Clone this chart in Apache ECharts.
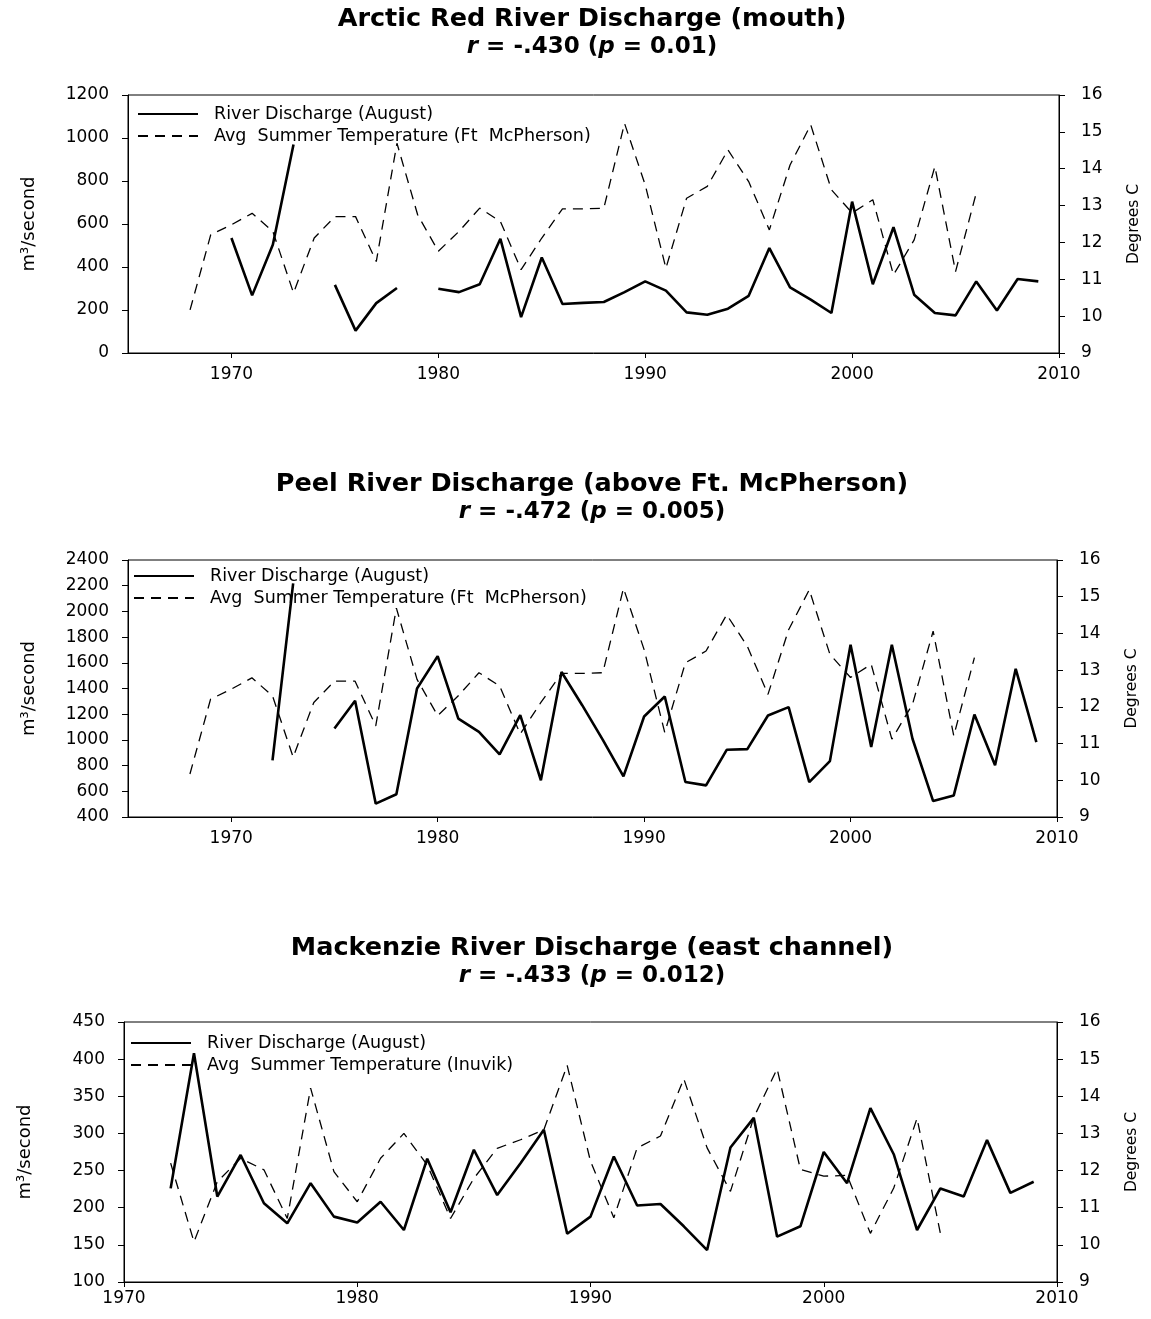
<!DOCTYPE html>
<html>
<head>
<meta charset="utf-8">
<script src="https://cdn.jsdelivr.net/npm/echarts@6/dist/echarts.min.js"></script>
<style>html,body{margin:0;padding:0;background:#fff}#c{width:1151px;height:1319px}</style>
</head>
<body>
<div id="c"></div>
<script>
const years = [1968,1969,1970,1971,1972,1973,1974,1975,1976,1977,1978,1979,1980,1981,1982,1983,1984,1985,1986,1987,1988,1989,1990,1991,1992,1993,1994,1995,1996,1997,1998,1999,2000,2001,2002,2003,2004,2005,2006,2007,2008,2009];
const arcticDischarge = [null,null,535,268,503,970,null,317,104,232,302,null,299,283,320,531,167,444,228,233,237,283,333,290,189,178,206,266,488,305,248,186,704,320,585,271,186,175,333,198,344,333];
const mcphersonTemp = [10.17,12.21,12.48,12.79,12.3,10.63,12.12,12.7,12.7,11.48,14.69,12.75,11.76,12.3,12.93,12.57,11.26,12.12,12.91,12.91,12.93,15.23,13.56,11.3,13.2,13.52,14.51,13.65,12.34,14.1,15.19,13.43,12.8,13.16,11.12,12.07,14.06,11.21,13.34,null,null,null];
const peelDischarge = [null,null,null,null,841,2218,null,1088,1304,504,577,1400,1652,1166,1062,888,1192,686,1528,1270,1000,716,1182,1338,672,646,923,928,1190,1255,672,835,1740,944,1740,1009,524,568,1198,802,1553,983];
const mackenzieDischarge = [null,null,null,null,226,408,215,271,206,179,233,188,180,208,170,266,194,278,217,260,305,165,188,269,203,205,175,143,281,321,161,175,275,233,334,272,170,226,215,291,220,235];
const inuvikTemp = [null,null,null,null,12.2,10.08,11.7,12.33,12.02,10.71,14.22,11.97,11.16,12.33,13.0,12.15,10.71,11.79,12.6,12.83,13.1,14.83,12.25,10.73,12.61,12.93,14.47,12.61,11.44,13.43,14.74,12.03,11.85,11.87,10.31,11.53,13.41,10.31,null,null,null,null];
const decadeTicks = [1970,1980,1990,2000,2010];
const titles = [
  ['Arctic Red River Discharge (mouth)', '-.430', '0.01'],
  ['Peel River Discharge (above Ft. McPherson)', '-.472', '0.005'],
  ['Mackenzie River Discharge (east channel)', '-.433', '0.012']
];
const dischargeName = 'River Discharge (August)';
const mcphName = 'Avg  Summer Temperature (Ft  McPherson)';
const inuvikName = 'Avg  Summer Temperature (Inuvik)';

const FONT = 'DejaVu Sans, Verdana, sans-serif';
const pair = arr => years.map((y, i) => [y, arr[i]]);
const plain = v => String(v);

const grids = [
  {left: 128, right: 92, top: 95, height: 258},
  {left: 128, right: 94, top: 560, height: 257},
  {left: 124, right: 94, top: 1022, height: 260}
].map(g => Object.assign({show: true, borderColor: '#000', borderWidth: 1, containLabel: false}, g));

const titleTops = [5, 470, 934];
const title = titles.map((t, i) => ({
  text: t[0] + '\n{it|r}{a| = ' + t[1] + ' (}{it|p}{a| = ' + t[2] + ')}',
  left: 592, top: titleTops[i], textAlign: 'center', padding: 0,
  textStyle: {fontFamily: FONT, fontSize: 25.5, fontWeight: 'bold', color: '#000', lineHeight: 28,
    rich: {
      it: {fontFamily: FONT, fontSize: 23, fontWeight: 'bold', fontStyle: 'italic', color: '#000', lineHeight: 28},
      a: {fontFamily: FONT, fontSize: 23, fontWeight: 'bold', color: '#000', lineHeight: 28}
    }}
}));

const xRange = [[1965, 2010], [1965, 2010], [1970, 2010]];
const xLabelMargin = [13, 13, 8];
const xAxis = xRange.map((r, i) => ({
  type: 'value', gridIndex: i, min: r[0], max: r[1], interval: 5,
  axisLine: {show: true, onZero: false, lineStyle: {color: '#000', width: 1}},
  axisTick: {show: true, inside: false, length: 5, customValues: decadeTicks, lineStyle: {color: '#000'}},
  axisLabel: {customValues: decadeTicks, formatter: plain, color: '#000', fontFamily: FONT, fontSize: 17, margin: xLabelMargin[i]},
  splitLine: {show: false}
}));

const leftRanges = [[0, 1200, 200], [400, 2400, 200], [100, 450, 50]];
const yAxis = [];
leftRanges.forEach((r, i) => {
  yAxis.push({
    type: 'value', gridIndex: i, position: 'left', min: r[0], max: r[1], interval: r[2],
    name: 'm³/second', nameLocation: 'middle', nameRotate: 90, nameGap: 90,
    nameTextStyle: {fontFamily: FONT, fontSize: 18, color: '#000'},
    axisLine: {show: true, onZero: false, lineStyle: {color: '#000', width: 1}},
    axisTick: {show: true, length: 6, lineStyle: {color: '#000'}},
    axisLabel: {formatter: plain, color: '#000', fontFamily: FONT, fontSize: 17, margin: 19},
    splitLine: {show: false}
  });
  yAxis.push({
    type: 'value', gridIndex: i, position: 'right', min: 9, max: 16, interval: 1,
    name: 'Degrees C', nameLocation: 'middle', nameRotate: 90, nameGap: 67,
    nameTextStyle: {fontFamily: FONT, fontSize: 15.5, color: '#000'},
    axisLine: {show: true, onZero: false, lineStyle: {color: '#000', width: 1}},
    axisTick: {show: true, length: 6, lineStyle: {color: '#000'}},
    axisLabel: {formatter: plain, color: '#000', fontFamily: FONT, fontSize: 17, margin: 22},
    splitLine: {show: false}
  });
});

const solid = {color: '#000', width: 2.6, type: 'solid'};
const dashed = {color: '#000', width: 1.3, type: [10, 7]};
const mk = (name, arr, gi, right, ls) => ({
  type: 'line', name, data: pair(arr), xAxisIndex: gi, yAxisIndex: gi * 2 + (right ? 1 : 0),
  symbol: 'none', showSymbol: false, connectNulls: false, lineStyle: ls, itemStyle: {color: '#000'},
  silent: true, z: right ? 2 : 3
});
const series = [
  mk(dischargeName, arcticDischarge, 0, false, solid),
  mk(mcphName, mcphersonTemp, 0, true, dashed),
  mk(dischargeName, peelDischarge, 1, false, solid),
  mk(mcphName, mcphersonTemp, 1, true, dashed),
  mk(dischargeName, mackenzieDischarge, 2, false, solid),
  mk(inuvikName, inuvikTemp, 2, true, dashed)
];

const legendTops = [100, 562, 1029];
const legendLefts = [132, 128, 125];
const legendNames = [[dischargeName, mcphName], [dischargeName, mcphName], [dischargeName, inuvikName]];
const legend = legendNames.map((d, i) => ({
  data: d, orient: 'vertical', left: legendLefts[i], top: legendTops[i],
  itemWidth: 60, itemHeight: 17, itemGap: 4, selectedMode: false,
  itemStyle: {opacity: 0},
  textStyle: {fontFamily: FONT, fontSize: 17.5, color: '#000', padding: [0, 0, 0, 11]}
}));

const chart = echarts.init(document.getElementById('c'), null, {renderer: 'canvas'});
chart.setOption({animation: false, backgroundColor: '#fff', title, grid: grids, xAxis, yAxis, series, legend});
</script>
</body>
</html>
